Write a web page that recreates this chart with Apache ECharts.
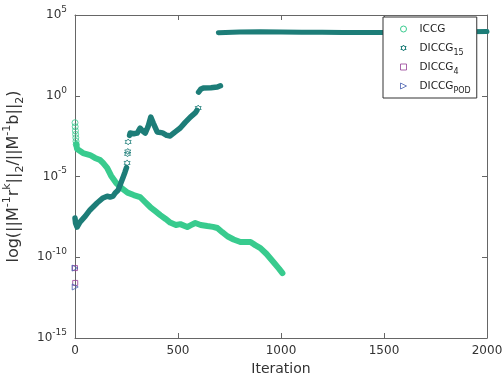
<!DOCTYPE html>
<html><head><meta charset="utf-8">
<script src="https://cdn.jsdelivr.net/npm/echarts@6/dist/echarts.min.js"></script>
<style>html,body{margin:0;padding:0;background:#fff}#c{width:503px;height:379px}</style>
</head><body><div id="c"></div>
<script>
// ---- data (y values are log10 of the relative residual) ----
const xTickValues = [0, 500, 1000, 1500, 2000];
const yTickExponents = [-15, -10, -5, 0, 5];

const iccgHeadIter = [0, 1, 2, 3, 4, 5, 6];
const iccgHeadLog  = [-1.67, -1.92, -2.17, -2.39, -2.60, -2.82, -3.01];

const iccgIter = [6, 10, 39, 73, 97, 122, 136, 156, 175, 200, 225, 255, 285, 316, 340, 365, 390, 414, 440, 462, 490, 511, 545, 565, 584, 610, 642, 670, 691, 715, 740, 770, 803, 830, 852, 875, 900, 930, 963, 990, 1007];
const iccgLog  = [-3.01, -3.30, -3.55, -3.67, -3.85, -3.98, -4.16, -4.47, -4.95, -5.40, -5.70, -6.00, -6.15, -6.27, -6.58, -6.89, -7.14, -7.39, -7.63, -7.85, -8.00, -7.95, -8.13, -8.00, -7.88, -8.00, -8.07, -8.12, -8.19, -8.45, -8.70, -8.90, -9.06, -9.06, -9.06, -9.25, -9.43, -9.80, -10.29, -10.70, -10.98];

const d15aIter = [0, 3, 10, 24, 50, 73, 107, 136, 156, 170, 185, 195, 209, 219, 234, 243, 250];
const d15aLog  = [-7.57, -7.90, -8.13, -7.82, -7.45, -7.07, -6.64, -6.33, -6.22, -6.27, -6.21, -6.02, -5.85, -5.53, -5.03, -4.72, -4.45];
const d15StarIter = [253, 255, 256, 258, 598];
const d15StarLog  = [-4.16, -3.60, -3.45, -2.86, -0.76];
const d15bIter = [265, 268, 285, 302, 316, 330, 341, 355, 368, 380, 399, 425, 445, 462, 485, 511, 535, 560, 585, 592];
const d15bLog  = [-2.45, -2.31, -2.35, -2.31, -2.00, -2.20, -2.31, -1.90, -1.32, -1.69, -2.24, -2.30, -2.45, -2.49, -2.25, -2.00, -1.65, -1.32, -1.05, -0.90];
const d15cIter = [600, 610, 623, 660, 691, 706];
const d15cLog  = [0.23, 0.40, 0.48, 0.50, 0.54, 0.62];
const d15dIter = [696, 800, 900, 1000, 1100, 1200, 1300, 1400, 1500, 1600, 1700, 1800, 1900, 2000];
const d15dLog  = [3.90, 3.95, 3.97, 3.95, 3.93, 3.93, 3.92, 3.92, 3.92, 3.93, 3.94, 3.95, 3.96, 3.98];

const diccg4Iter = [0, 1];
const diccg4Log  = [-10.67, -11.59];
const podIter = [0, 1];
const podLog  = [-10.67, -11.84];

const seriesNames = ['ICCG', 'DICCG15', 'DICCG4', 'DICCGPOD'];
const legendLabels = ['ICCG', 'DICCG{sub|15}', 'DICCG{sub|4}', 'DICCG{sub|POD}'];

// ---- styling ----
const FONT = 'DejaVu Sans';
const C_ICCG = '#38cb8e', C_D15 = '#1d7d78', C_D4 = '#953d95', C_POD = '#4860b0';
const AX = '#666', TXT = '#333';
const STAR = 'path://M5,0 L6.44,2.5 L9.33,2.5 L7.89,5 L9.33,7.5 L6.44,7.5 L5,10 L3.56,7.5 L0.67,7.5 L2.11,5 L0.67,2.5 L3.56,2.5 Z';
const TRI_R = 'path://M0,0 L10,5 L0,10 Z';

const zip = (a, b) => a.map((v, i) => [v, b[i]]);
const lineSeg = (name, xs, ys, color, width) => ({
  type: 'line', name, data: zip(xs, ys), symbol: 'none', showSymbol: false,
  lineStyle: { color, width, cap: 'round', join: 'round' }, itemStyle: { color },
  animation: false, silent: true
});
const hollow = (name, xs, ys, symbol, size, color) => ({
  type: 'scatter', name, data: zip(xs, ys), symbol, symbolSize: size,
  itemStyle: { color: 'rgba(255,255,255,0)', borderColor: color, borderWidth: 1 },
  animation: false, silent: true
});
const frameLine = { show: true, onZero: false, lineStyle: { color: AX } };
const frameTick = { show: true, inside: true, length: 5, lineStyle: { color: AX } };

const chart = echarts.init(document.getElementById('c'), null, { renderer: 'canvas' });
chart.setOption({
  backgroundColor: '#fff',
  textStyle: { fontFamily: FONT },
  grid: { left: 75, right: 16, top: 15, bottom: 41, containLabel: false, outerBoundsMode: 'none' },
  xAxis: [{
    type: 'value', min: xTickValues[0], max: xTickValues[xTickValues.length - 1], interval: 500,
    position: 'bottom',
    axisLine: frameLine, axisTick: frameTick,
    axisLabel: { color: TXT, fontSize: 12, fontFamily: FONT, margin: 7, formatter: v => String(v) },
    splitLine: { show: false },
    name: 'Iteration', nameLocation: 'middle', nameGap: 23,
    nameTextStyle: { color: TXT, fontSize: 14, fontFamily: FONT }
  }, {
    type: 'value', min: 0, max: 2000, interval: 500, position: 'top',
    axisLine: frameLine, axisTick: frameTick,
    axisLabel: { show: false }, splitLine: { show: false }
  }],
  yAxis: [{
    type: 'value', min: yTickExponents[0], max: yTickExponents[yTickExponents.length - 1], interval: 5,
    position: 'left',
    axisLine: frameLine, axisTick: frameTick,
    axisLabel: {
      color: TXT, fontFamily: FONT, fontSize: 12, margin: 8,
      formatter: v => '{b|10}{s|' + v + '}',
      rich: {
        b: { fontSize: 12, fontFamily: FONT, color: TXT, lineHeight: 20 },
        s: { fontSize: 9, fontFamily: FONT, color: TXT, verticalAlign: 'top', lineHeight: 10 }
      }
    },
    splitLine: { show: false },
    name: '{n|log(||M}{sup|-1}{n|r}{sup|k}{n|||}{sub|2}{n|/||M}{sup|-1}{n|b||}{sub|2}{n|)}',
    nameLocation: 'middle', nameRotate: 90, nameGap: 36,
    nameTextStyle: {
      color: TXT, fontFamily: FONT, fontSize: 16,
      rich: {
        n: { fontSize: 16, fontFamily: FONT, color: TXT, lineHeight: 24 },
        sup: { fontSize: 11, fontFamily: FONT, color: TXT, verticalAlign: 'top', lineHeight: 12 },
        sub: { fontSize: 11, fontFamily: FONT, color: TXT, verticalAlign: 'bottom', lineHeight: 12 }
      }
    }
  }, {
    type: 'value', min: -15, max: 5, interval: 5, position: 'right',
    axisLine: frameLine, axisTick: frameTick,
    axisLabel: { show: false }, splitLine: { show: false }
  }],
  legend: {
    orient: 'vertical', left: 383, top: 17, selectedMode: false,
    padding: [3, 6, 3, 17], itemGap: 1, itemWidth: 6, itemHeight: 6,
    backgroundColor: '#fff', borderColor: '#333', borderWidth: 1, borderRadius: 0,
    formatter: name => legendLabels[seriesNames.indexOf(name)],
    textStyle: {
      fontFamily: FONT, fontSize: 10.5, color: '#222', lineHeight: 18, padding: [0, 0, 0, 8],
      rich: {
        sub: { fontSize: 8, fontFamily: FONT, color: '#222', verticalAlign: 'bottom', lineHeight: 10 }
      }
    },
    data: [
      { name: 'ICCG', icon: 'circle', itemStyle: { color: 'rgba(255,255,255,0)', borderColor: C_ICCG, borderWidth: 1 } },
      { name: 'DICCG15', icon: STAR, itemStyle: { color: 'rgba(255,255,255,0)', borderColor: C_D15, borderWidth: 1 } },
      { name: 'DICCG4', icon: 'rect', itemStyle: { color: 'rgba(255,255,255,0)', borderColor: C_D4, borderWidth: 1 } },
      { name: 'DICCGPOD', icon: TRI_R, itemStyle: { color: 'rgba(255,255,255,0)', borderColor: C_POD, borderWidth: 1 } }
    ]
  },
  series: [
    lineSeg('ICCG', iccgIter, iccgLog, C_ICCG, 6),
    hollow('ICCG', iccgHeadIter, iccgHeadLog, 'circle', 6, C_ICCG),
    lineSeg('DICCG15', d15aIter, d15aLog, C_D15, 5.5),
    lineSeg('DICCG15', d15bIter, d15bLog, C_D15, 5.5),
    lineSeg('DICCG15', d15cIter, d15cLog, C_D15, 5.5),
    lineSeg('DICCG15', d15dIter, d15dLog, C_D15, 5),
    hollow('DICCG15', d15StarIter, d15StarLog, STAR, 6, C_D15),
    hollow('DICCG4', diccg4Iter, diccg4Log, 'rect', 5, C_D4),
    hollow('DICCGPOD', podIter, podLog, TRI_R, 6, C_POD)
  ]
});
</script></body></html>
